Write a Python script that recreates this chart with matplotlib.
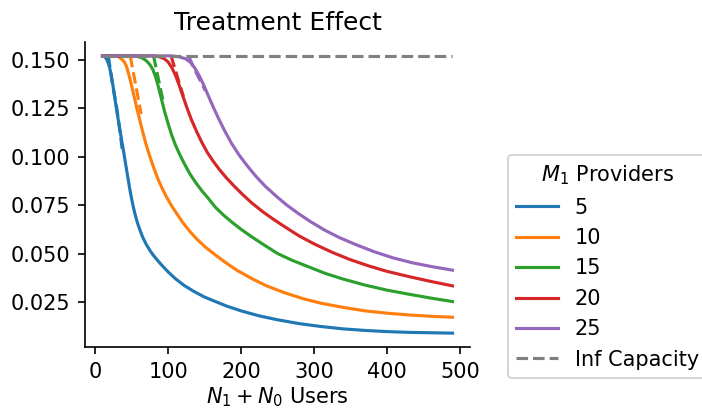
import numpy as np
import matplotlib
matplotlib.use("Agg")
import matplotlib.pyplot as plt

# values
providers = [5, 10, 15, 20, 25]
inf_capacity_te = 0.152
users_range = [10, 490]

users_5 = [10, 12, 14, 16, 18, 20, 22, 24, 26, 28, 30, 33, 36, 39, 42, 45, 48, 51, 54, 57, 60, 65, 70,
           76, 82, 90, 100, 110, 122, 135, 150, 165, 180, 200, 225, 250, 280, 310, 340, 370, 400, 430,
           460, 490]
te_5 = [0.152, 0.1518, 0.1512, 0.1500, 0.1482, 0.1455, 0.1420, 0.1375, 0.1325, 0.1275, 0.1225, 0.1160,
        0.1090, 0.1025, 0.0955, 0.0887, 0.0820, 0.0762, 0.0712, 0.0670, 0.0635, 0.0585, 0.0547, 0.0510,
        0.0480, 0.0445, 0.0405, 0.0370, 0.0335, 0.0305, 0.0275, 0.0252, 0.0229, 0.0204, 0.0178, 0.0158,
        0.0138, 0.0123, 0.0111, 0.0103, 0.0097, 0.0093, 0.0091, 0.0089]

users_10 = [10, 28, 32, 36, 40, 43, 46, 50, 54, 58, 62, 66, 70, 75, 80, 86, 92, 98, 105, 112, 120, 130,
            140, 152, 165, 180, 195, 215, 235, 260, 285, 310, 340, 370, 400, 430, 460, 490]
te_10 = [0.152, 0.152, 0.1515, 0.1505, 0.1488, 0.1465, 0.1425, 0.1365, 0.1300, 0.1235, 0.1175, 0.1115,
         0.1060, 0.1000, 0.0945, 0.0885, 0.0835, 0.0790, 0.0745, 0.0705, 0.0660, 0.0613, 0.0572, 0.0530,
         0.0492, 0.0450, 0.0412, 0.0370, 0.0333, 0.0297, 0.0267, 0.0243, 0.0222, 0.0204, 0.0192, 0.0183,
         0.0176, 0.0171]

users_15 = [10, 52, 58, 64, 70, 75, 79, 83, 87, 91, 95, 100, 105, 110, 116, 122, 130, 138, 146, 155, 165,
            176, 188, 200, 215, 230, 250, 270, 290, 315, 340, 370, 400, 430, 460, 490]
te_15 = [0.152, 0.152, 0.1517, 0.1510, 0.1495, 0.1475, 0.1450, 0.1410, 0.1355, 0.1295, 0.1235, 0.1170,
         0.1110, 0.1060, 0.1010, 0.0965, 0.0910, 0.0865, 0.0825, 0.0785, 0.0738, 0.0698, 0.0660, 0.0625,
         0.0585, 0.0548, 0.0500, 0.0465, 0.0435, 0.0398, 0.0368, 0.0337, 0.0311, 0.0290, 0.0270, 0.0252]

users_20 = [10, 80, 88, 95, 100, 105, 110, 115, 120, 126, 132, 139, 146, 154, 162, 171, 180, 190, 202,
            215, 230, 245, 262, 280, 300, 325, 350, 375, 400, 430, 460, 490]
te_20 = [0.152, 0.152, 0.1515, 0.1505, 0.1488, 0.1460, 0.1420, 0.1370, 0.1315, 0.1250, 0.1190, 0.1130,
         0.1075, 0.1020, 0.0975, 0.0930, 0.0890, 0.0850, 0.0805, 0.0760, 0.0715, 0.0675, 0.0633, 0.0590,
         0.0550, 0.0506, 0.0468, 0.0436, 0.0408, 0.0381, 0.0356, 0.0333]

users_25 = [10, 105, 115, 124, 131, 137, 143, 149, 155, 162, 170, 178, 187, 197, 208, 220, 233, 247, 262,
            278, 295, 315, 335, 358, 382, 408, 435, 462, 490]
te_25 = [0.152, 0.152, 0.1515, 0.1505, 0.1485, 0.1455, 0.1415, 0.1368, 0.1315, 0.1255, 0.1190, 0.1130,
         0.1068, 0.1010, 0.0955, 0.0900, 0.0848, 0.0800, 0.0752, 0.0708, 0.0665, 0.0620, 0.0582, 0.0545,
         0.0510, 0.0478, 0.0452, 0.0432, 0.0414]

# approximation (dashed) near the knee
approx_users_5 = [18, 23, 30, 37]
approx_te_5 = [0.152, 0.139, 0.124, 0.104]
approx_users_10 = [48, 53, 58, 63]
approx_te_10 = [0.152, 0.142, 0.132, 0.122]
approx_users_15 = [80, 85, 90, 94]
approx_te_15 = [0.152, 0.143, 0.134, 0.127]
approx_users_20 = [104, 110, 116, 121]
approx_te_20 = [0.152, 0.1445, 0.137, 0.131]
approx_users_25 = [128, 135, 143, 151]
approx_te_25 = [0.152, 0.146, 0.140, 0.134]


if __name__ == "__main__":
    curves = [
        (users_5, te_5, approx_users_5, approx_te_5),
        (users_10, te_10, approx_users_10, approx_te_10),
        (users_15, te_15, approx_users_15, approx_te_15),
        (users_20, te_20, approx_users_20, approx_te_20),
        (users_25, te_25, approx_users_25, approx_te_25),
    ]

    fig = plt.figure(figsize=(702 / 150, 410 / 150), dpi=150)
    ax = fig.add_axes([85 / 702, 1 - 347 / 410, 385 / 702, 305 / 410])

    for i, (m, (x, y, xa, ya)) in enumerate(zip(providers, curves)):
        c = f"C{i}"
        ax.plot(x, y, color=c, label=str(m))
        ax.plot(xa, ya, color=c, linestyle="--", label="_nolegend_")

    ax.plot(users_range, [inf_capacity_te] * 2, color="grey", linestyle="--", label="Inf Capacity")

    ax.set_title("Treatment Effect")
    ax.set_xlabel("$N_1 + N_0$ Users", labelpad=2)
    ax.set_xticks([0, 100, 200, 300, 400, 500])
    ax.spines["top"].set_visible(False)
    ax.spines["right"].set_visible(False)

    ax.legend(title="$M_1$ Providers", loc="lower left", bbox_to_anchor=(508 / 702, 32 / 410),
              bbox_transform=fig.transFigure, borderaxespad=0)

    fig.savefig("out.png", dpi=150)
